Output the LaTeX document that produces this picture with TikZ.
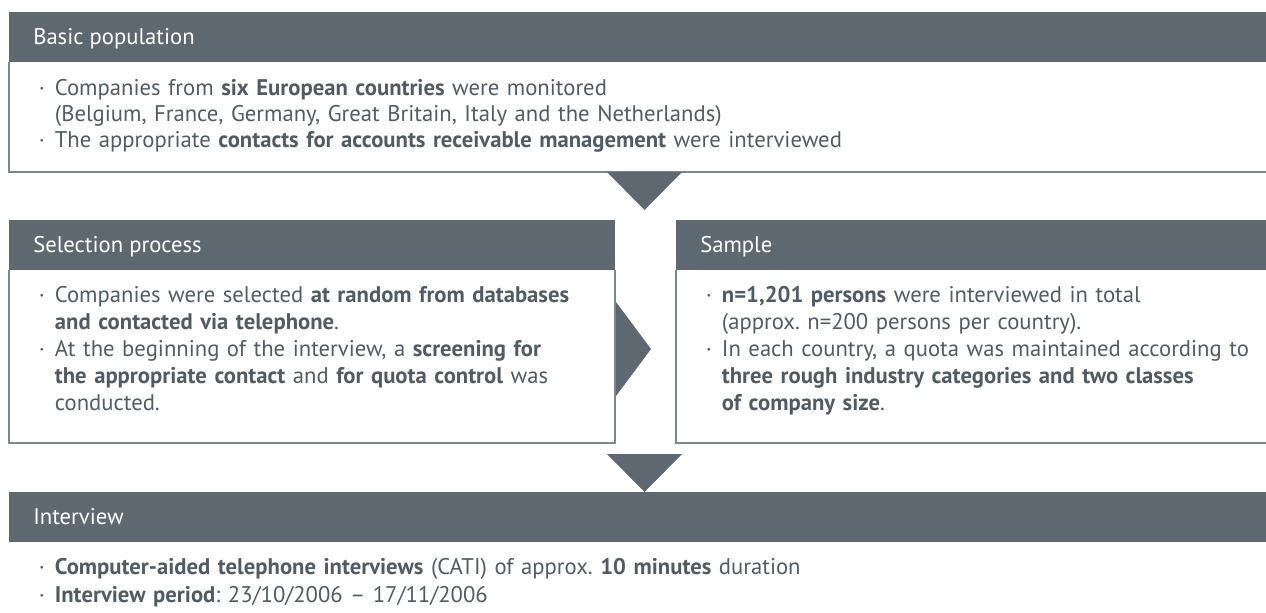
\documentclass[tikz,border=0pt]{standalone}
\usepackage{fontspec}
\setmainfont{PT Sans}
\usetikzlibrary{positioning}
\definecolor{slate}{HTML}{5D6870}
\definecolor{rulegray}{HTML}{7D878E}
\definecolor{textgray}{HTML}{505B64}
\newcommand{\bul}{\makebox[14pt][l]{\hspace*{2pt}\textperiodcentered}}
\newcommand{\ind}{\hspace*{14pt}}
\frenchspacing

\begin{document}
\begin{tikzpicture}[x=0.75pt, y=-0.75pt,
    headtext/.style = {anchor=base west, inner sep=0pt, text=white, font=\fontsize{17}{20}\selectfont},
    bodytext/.style = {anchor=base west, inner sep=0pt, text=textgray, text width=800pt, align=left, font=\fontsize{17}{20.25}\selectfont},
    rule/.style     = {rulegray, line width=0.8pt},
    pointer/.style  = {fill=slate}]

		\useasboundingbox (0,0) rectangle (1266,612);
		%%%%%%%%%%%%%%%%%%% Basic population
		\fill[slate] (9,12) rectangle (1266,62);
		\node[headtext] (basichead) at (33,44) {Basic population};
		\draw[rule] (9,62) -- (9,172) -- (1266,172);
		\node[bodytext, font=\fontsize{17}{19.5}\selectfont] (basictext) at (36,95) {\bul Companies from \textbf{six European countries} were monitored\\
			\ind (Belgium, France, Germany, Great Britain, Italy and the Netherlands)\\
			\bul The appropriate \textbf{contacts for accounts receivable management} were interviewed};
		\fill[pointer] (607,172) -- (682,172) -- (644.5,210) -- cycle; % down
		%%%%%%%%%%%%%%%%%%% Selection process
		\fill[slate] (9,220) rectangle (615,270);
		\node[headtext] (selhead) at (33,252) {Selection process};
		\draw[rule] (9,270) -- (9,443) -- (615,443) -- (615,270);
		\node[bodytext] (seltext) at (36,302) {\bul Companies were selected \textbf{at random from databases}\\
			\ind\textbf{and contacted via telephone}.\\
			\bul At the beginning of the interview, a \textbf{screening for}\\
			\ind\textbf{the appropriate contact} and \textbf{for quota control} was\\
			\ind conducted.};
		\fill[pointer] (616,302) -- (651,349) -- (616,396) -- cycle; % right
		%%%%%%%%%%%%%%%%%%% Sample
		\fill[slate] (676,220) rectangle (1266,270);
		\node[headtext] (samplehead) at (700,252) {Sample};
		\draw[rule] (676,270) -- (676,443) -- (1266,443);
		\node[bodytext] (sampletext) at (703,302) {\bul \textbf{n=1,201 persons} were interviewed in total\\
			\ind (approx. n=200 persons per country).\\
			\bul In each country, a quota was maintained according to\\
			\ind\textbf{three rough industry categories and two classes}\\
			\ind\textbf{of company size}.};
		\fill[pointer] (607,454) -- (682,454) -- (644.5,492) -- cycle; % down
		%%%%%%%%%%%%%%%%%%% Interview
		\fill[slate] (9,492) rectangle (1266,542);
		\node[headtext] (interhead) at (33,524) {Interview};
		\node[bodytext, font=\fontsize{17}{21.5}\selectfont] (intertext) at (36,574) {\bul \textbf{Computer-aided telephone interviews} (CATI) of approx. \textbf{10 minutes} duration\\
			\bul \textbf{Interview period}: 23/10/2006 -- 17/11/2006};

\end{tikzpicture}
\end{document}
